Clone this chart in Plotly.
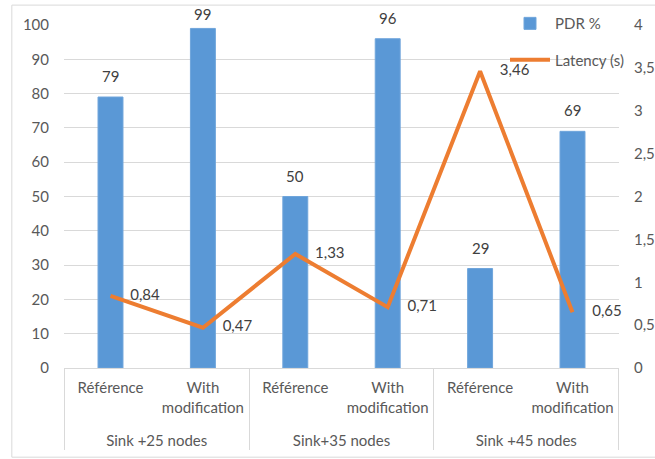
import plotly.graph_objects as go

# Scenario groups and the two variants compared in each group
groups = ["Sink +25 nodes", "Sink +25 nodes", "Sink+35 nodes", "Sink+35 nodes",
          "Sink +45 nodes", "Sink +45 nodes"]
variants = ["Référence", "With<br>modification<br> ", "Référence",
            "With<br>modification<br> ", "Référence", "With<br>modification<br> "]

# Packet delivery ratio (%) and latency (s)
pdr = [79, 99, 50, 96, 29, 69]
latency = [0.84, 0.47, 1.33, 0.71, 3.46, 0.65]

FONT = "Lato"
FS = 15
TEXT_COLOR = "#404040"
TICK_COLOR = "#595959"
GRID = "#D9D9D9"
CLEAR = "rgba(0,0,0,0)"

W, H = 655, 459
M_L, M_R, M_T, M_B = 64, 36, 25, 91
PX_PER_UNIT = (H - M_T - M_B) / 100.0

fig = go.Figure()

fig.add_trace(go.Bar(
    x=[groups, variants], y=pdr, name="PDR %",
    marker=dict(color="#5A98D6", line=dict(color="#6FA5DB", width=1)),
    width=0.27, legendgroup="a",
))

fig.add_trace(go.Scatter(
    x=[groups, variants], y=latency, name="Latency (s)", yaxis="y2",
    mode="lines+markers+text",
    line=dict(color="#ED7D31", width=4),
    marker=dict(size=30, color=CLEAR),
    text=[f"{v:.2f}".replace(".", ",") for v in latency],
    textposition="middle right",
    textfont=dict(family=FONT, size=FS, color=TEXT_COLOR),
    cliponaxis=False, legendgroup="b",
))

# Value labels above the bars; the gap shrinks near the top so labels stay inside
for i, v in enumerate(pdr):
    gap = min(10, (100 - v) * PX_PER_UNIT)
    fig.add_annotation(x=i, y=v, xref="x", yref="y", text=str(v),
                       showarrow=False, yanchor="bottom", yshift=gap,
                       font=dict(family=FONT, size=FS, color=TEXT_COLOR))

fig.update_layout(
    width=W, height=H,
    margin=dict(l=M_L, r=M_R, t=M_T, b=M_B, autoexpand=False),
    paper_bgcolor="white", plot_bgcolor="white",
    separators=", ",
    font=dict(family=FONT, size=FS, color=TICK_COLOR),
    showlegend=True,
    legend=dict(xref="container", yref="container", x=0.771, y=0.9845,
                xanchor="left", yanchor="top",
                bgcolor=CLEAR, tracegroupgap=14,
                font=dict(family=FONT, size=FS, color=TICK_COLOR),
                itemwidth=40),
    xaxis=dict(type="multicategory", showline=True, linecolor=GRID, linewidth=1,
               showdividers=True, dividercolor=GRID, dividerwidth=1,
               tickfont=dict(family=FONT, size=FS, color=TICK_COLOR),
               ticks="", ticklabelstandoff=6, automargin=False, showgrid=False),
    yaxis=dict(range=[0, 100], dtick=10, showgrid=True, gridcolor=GRID, gridwidth=1,
               zeroline=False, ticks="", ticklabelstandoff=14, automargin=False,
               tickfont=dict(family=FONT, size=FS, color=TICK_COLOR)),
    yaxis2=dict(range=[0, 4], dtick=0.5, overlaying="y", side="right",
                showgrid=False, zeroline=False, ticks="", ticklabelstandoff=14,
                automargin=False,
                tickfont=dict(family=FONT, size=FS, color=TICK_COLOR)),
    bargap=0.73,
)

# Light chart-area frame
fig.add_shape(type="rect", xref="paper", yref="paper",
              x0=-0.094, x1=1.1, y0=-0.26, y1=1.058,
              line=dict(color=GRID, width=1), layer="below")

fig.write_html("out.html")
